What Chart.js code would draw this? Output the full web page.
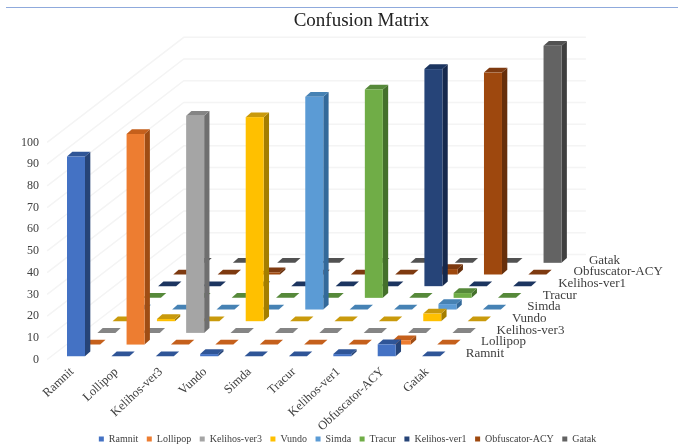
<!DOCTYPE html>
<html>
<head>
<meta charset="utf-8">
<title>Confusion Matrix</title>
<script src="https://cdn.jsdelivr.net/npm/chart.js@4/dist/chart.umd.min.js"></script>
<style>
  html, body { margin: 0; padding: 0; background: #fff; }
  #wrap { position: relative; width: 678px; height: 446px; }
  #chart { filter: blur(0.35px); }
</style>
</head>
<body>
<div id="wrap"><canvas id="chart" width="678" height="446"></canvas></div>
<script>
const categories = ['Ramnit', 'Lollipop', 'Kelihos-ver3', 'Vundo', 'Simda', 'Tracur', 'Kelihos-ver1', 'Obfuscator-ACY', 'Gatak'];
const valueTicks = [0, 10, 20, 30, 40, 50, 60, 70, 80, 90, 100];

// one list per true class
const ramnit = [92, 0, 0, 1, 0, 0, 1, 5.5, 0];
const lollipop = [0, 97, 0, 0, 0, 0, 0, 2, 0];
const kelihos3 = [0, 0, 100, 0, 0, 0, 0, 0, 0];
const vundo = [0, 1, 0, 94, 0, 0, 0, 3.5, 0];
const simda = [0, 0, 0, 0, 98, 0, 0, 2.5, 0];
const tracur = [0, 0, 0, 0, 0, 96, 0, 2.2, 0];
const kelihos1 = [0, 0, 0, 0, 0, 0, 100, 0, 0];
const obfuscator = [0, 0, 1, 0, 0, 0, 2.5, 93, 0];
const gatak = [0, 0, 0, 0, 0, 0, 0, 0, 100];
const rows = [ramnit, lollipop, kelihos3, vundo, simda, tracur, kelihos1, obfuscator, gatak];

const frontColors = ['#4472c4', '#ed7d31', '#a5a5a5', '#ffc000', '#5b9bd5', '#70ad47', '#264478', '#9e480e', '#636363'];
const topColors = ['#2f5597', '#c5601c', '#858585', '#c99a0c', '#4682b4', '#56893a', '#1c3560', '#7e3a10', '#525252'];
const sideColors = ['#264478', '#a04d14', '#6f6f6f', '#a47e00', '#33699a', '#44702b', '#16294d', '#672f0b', '#3f3f3f'];

// oblique projection, in axis units: one row back moves this far along x and y
const rowStepX = 0.342;
const rowStepY = 5.38;
const boxDepthX = 0.12;
const boxDepthY = 2.2;
const floorInset = 1.5;
const wallLeft = -0.65;
const wallRight = 8.41;

const FONT = '"Liberation Serif", serif';
const INK = '#404040';

class Box3DController extends Chart.BarController {
  draw() {
    const { ctx, scales } = this.chart;
    const ds = this.getDataset();
    const dx = scales.x.getPixelForValue(boxDepthX) - scales.x.getPixelForValue(0);
    const dy = scales.y.getPixelForValue(0) - scales.y.getPixelForValue(boxDepthY);
    ctx.save();
    this._cachedMeta.data.forEach((bar) => {
      const { x, y, base, width } = bar.getProps(['x', 'y', 'base', 'width'], true);
      const l = x - width / 2;
      const r = x + width / 2;
      // side
      ctx.fillStyle = ds.sideColor;
      ctx.beginPath();
      ctx.moveTo(r, y);
      ctx.lineTo(r + dx, y - dy);
      ctx.lineTo(r + dx, base - dy);
      ctx.lineTo(r, base);
      ctx.closePath();
      ctx.fill();
      // top
      ctx.fillStyle = ds.topColor;
      ctx.beginPath();
      ctx.moveTo(l, y);
      ctx.lineTo(l + dx, y - dy);
      ctx.lineTo(r + dx, y - dy);
      ctx.lineTo(r, y);
      ctx.closePath();
      ctx.fill();
      // front
      ctx.fillStyle = ds.backgroundColor;
      ctx.fillRect(l, y, width, base - y);
    });
    ctx.restore();
  }
}
Box3DController.id = 'box3d';
Box3DController.defaults = Chart.BarController.defaults;
Chart.register(Box3DController);

const walls = {
  id: 'walls',
  afterLayout(chart) {
    // tick labels are clipped to their scale box, and these ones run over it
    chart.scales.y.left = 0;
    chart.scales.x.bottom = chart.height;
  },
  beforeDatasetsDraw(chart) {
    const { ctx, scales: { x, y } } = chart;
    const depthX = rowStepX * rows.length;
    const depthY = rowStepY * rows.length;
    ctx.save();
    ctx.strokeStyle = '#f4f4f4';
    ctx.lineWidth = 1.5;
    valueTicks.forEach((v) => {
      ctx.beginPath();
      ctx.moveTo(x.getPixelForValue(wallLeft), y.getPixelForValue(v));
      ctx.lineTo(x.getPixelForValue(wallLeft + depthX), y.getPixelForValue(v + depthY));
      ctx.lineTo(x.getPixelForValue(wallRight + depthX), y.getPixelForValue(v + depthY));
      ctx.stroke();
    });
    ctx.restore();
  },
  afterDraw(chart) {
    const { ctx, scales: { x, y } } = chart;
    ctx.save();
    // depth axis names
    ctx.font = '13px ' + FONT;
    ctx.fillStyle = INK;
    ctx.textAlign = 'left';
    ctx.textBaseline = 'middle';
    categories.forEach((name, r) => {
      ctx.fillText(name, x.getPixelForValue(8.78 + r * 0.347), y.getPixelForValue(2.7 + r * rowStepY));
    });
    // rule along the top of the figure
    ctx.strokeStyle = '#8faadc';
    ctx.lineWidth = 1;
    ctx.beginPath();
    ctx.moveTo(6, 7.5);
    ctx.lineTo(678, 7.5);
    ctx.stroke();
    ctx.restore();
  }
};

new Chart(document.getElementById('chart'), {
  type: 'box3d',
  plugins: [walls],
  data: {
    datasets: rows.map((row, r) => ({
      label: categories[r],
      data: row.map((v, c) => {
        const floor = floorInset + r * rowStepY;
        return { x: c + r * rowStepX, y: [floor, floor + v] };
      }),
      backgroundColor: frontColors[r],
      topColor: topColors[r],
      sideColor: sideColors[r],
      barThickness: 18,
      grouped: false,
      clip: false
    }))
  },
  options: {
    responsive: false,
    animation: false,
    layout: { padding: { left: 18, right: 1, bottom: -8, top: 0 } },
    plugins: {
      tooltip: { enabled: false },
      title: {
        display: true,
        text: 'Confusion Matrix',
        fullSize: false,
        color: '#222',
        font: { family: FONT, size: 19, weight: 'normal' },
        padding: { top: 10, bottom: 0 }
      },
      legend: {
        position: 'bottom',
        labels: {
          usePointStyle: true,
          pointStyle: 'rect',
          boxWidth: 5,
          boxHeight: 5,
          padding: 8.5,
          color: INK,
          font: { family: FONT, size: 10 }
        }
      }
    },
    scales: {
      x: {
        type: 'linear',
        min: -0.676,
        max: 13.54,
        offset: false,
        grid: { display: false, drawTicks: false },
        border: { display: false },
        afterBuildTicks(scale) { scale.ticks = categories.map((c, i) => ({ value: i })); },
        afterFit(scale) { scale.height = 66; },
        ticks: {
          autoSkip: false,
          minRotation: 43,
          maxRotation: 43,
          padding: 5,
          labelOffset: -4,
          color: INK,
          font: { family: FONT, size: 12.5 },
          callback: (v) => categories[v]
        }
      },
      y: {
        type: 'linear',
        min: 0,
        max: 150.5,
        grid: { display: false, drawTicks: false },
        border: { display: false },
        afterBuildTicks(scale) { scale.ticks = valueTicks.map((v) => ({ value: v })); },
        afterFit(scale) { scale.width = 28; },
        ticks: {
          padding: 7,
          color: INK,
          font: { family: FONT, size: 12 }
        }
      }
    }
  }
});
</script>
</body>
</html>
